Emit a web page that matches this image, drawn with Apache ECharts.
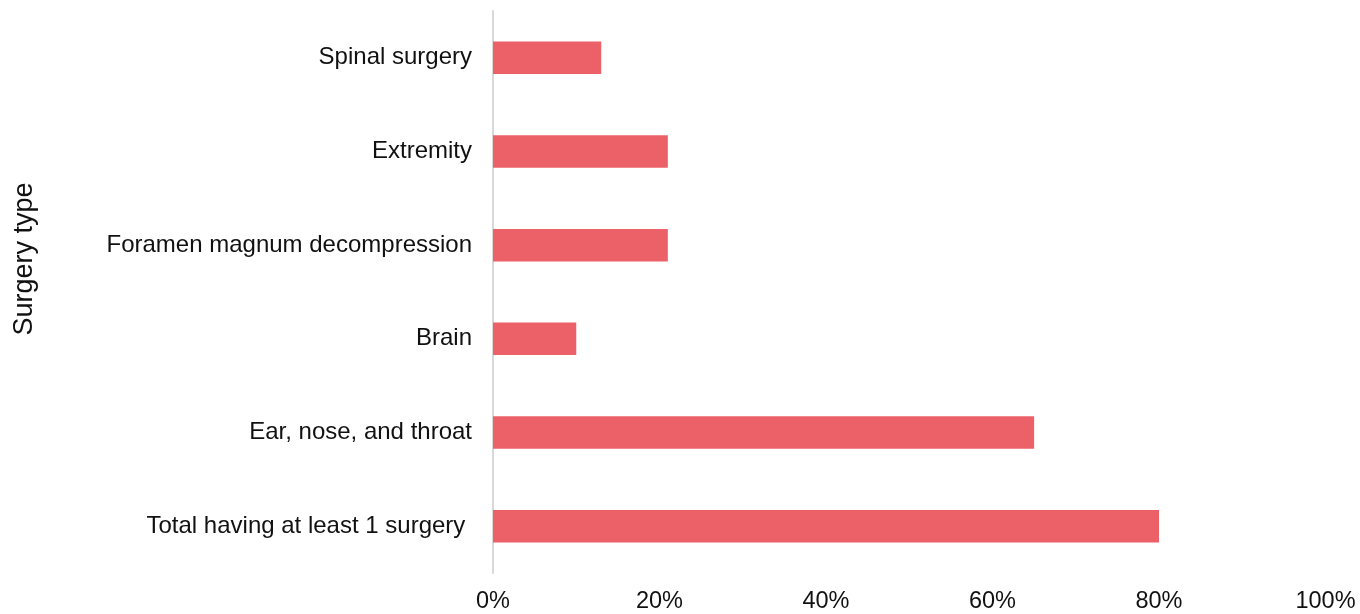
<!DOCTYPE html>
<html>
<head>
<meta charset="utf-8">
<script src="https://cdn.jsdelivr.net/npm/echarts@6/dist/echarts.min.js"></script>
<style>html,body{margin:0;padding:0;background:#fff;}#c{width:1360px;height:614px;}</style>
</head>
<body>
<div id="c"></div>
<script>
const categories = ["Total having at least 1 surgery ", "Ear, nose, and throat", "Brain", "Foramen magnum decompression", "Extremity", "Spinal surgery"];
const values = [80, 65, 10, 21, 21, 13];
const xTicks = [0, 20, 40, 60, 80, 100];
const axisTitle = "Surgery type";

const chart = echarts.init(document.getElementById('c'));
const font = "'Liberation Sans', Arial, sans-serif";
chart.setOption({
  animation: false,
  grid: { left: 493, right: 34.5, top: 11, bottom: 41, containLabel: false },
  xAxis: {
    type: 'value', min: xTicks[0], max: xTicks[xTicks.length - 1], interval: 20,
    axisLine: { show: false }, axisTick: { show: false }, splitLine: { show: false },
    axisLabel: { formatter: v => v + '%', fontSize: 23.5, color: '#111', fontFamily: font, margin: 17 }
  },
  yAxis: {
    type: 'category', data: categories,
    axisLine: { show: true, lineStyle: { color: '#d9d9d9', width: 2 } },
    axisTick: { show: false },
    axisLabel: { fontSize: 24, color: '#111', fontFamily: font, margin: 21 }
  },
  graphic: [{
    type: 'text', x: 25, y: 259, rotation: Math.PI / 2,
    style: { text: axisTitle, fontSize: 27, fill: '#111', fontFamily: font, textAlign: 'center', textVerticalAlign: 'middle' }
  }],
  series: [{
    type: 'bar', data: values, barWidth: '34.7%',
    itemStyle: { color: '#EC6067' }
  }]
});
</script>
</body>
</html>
